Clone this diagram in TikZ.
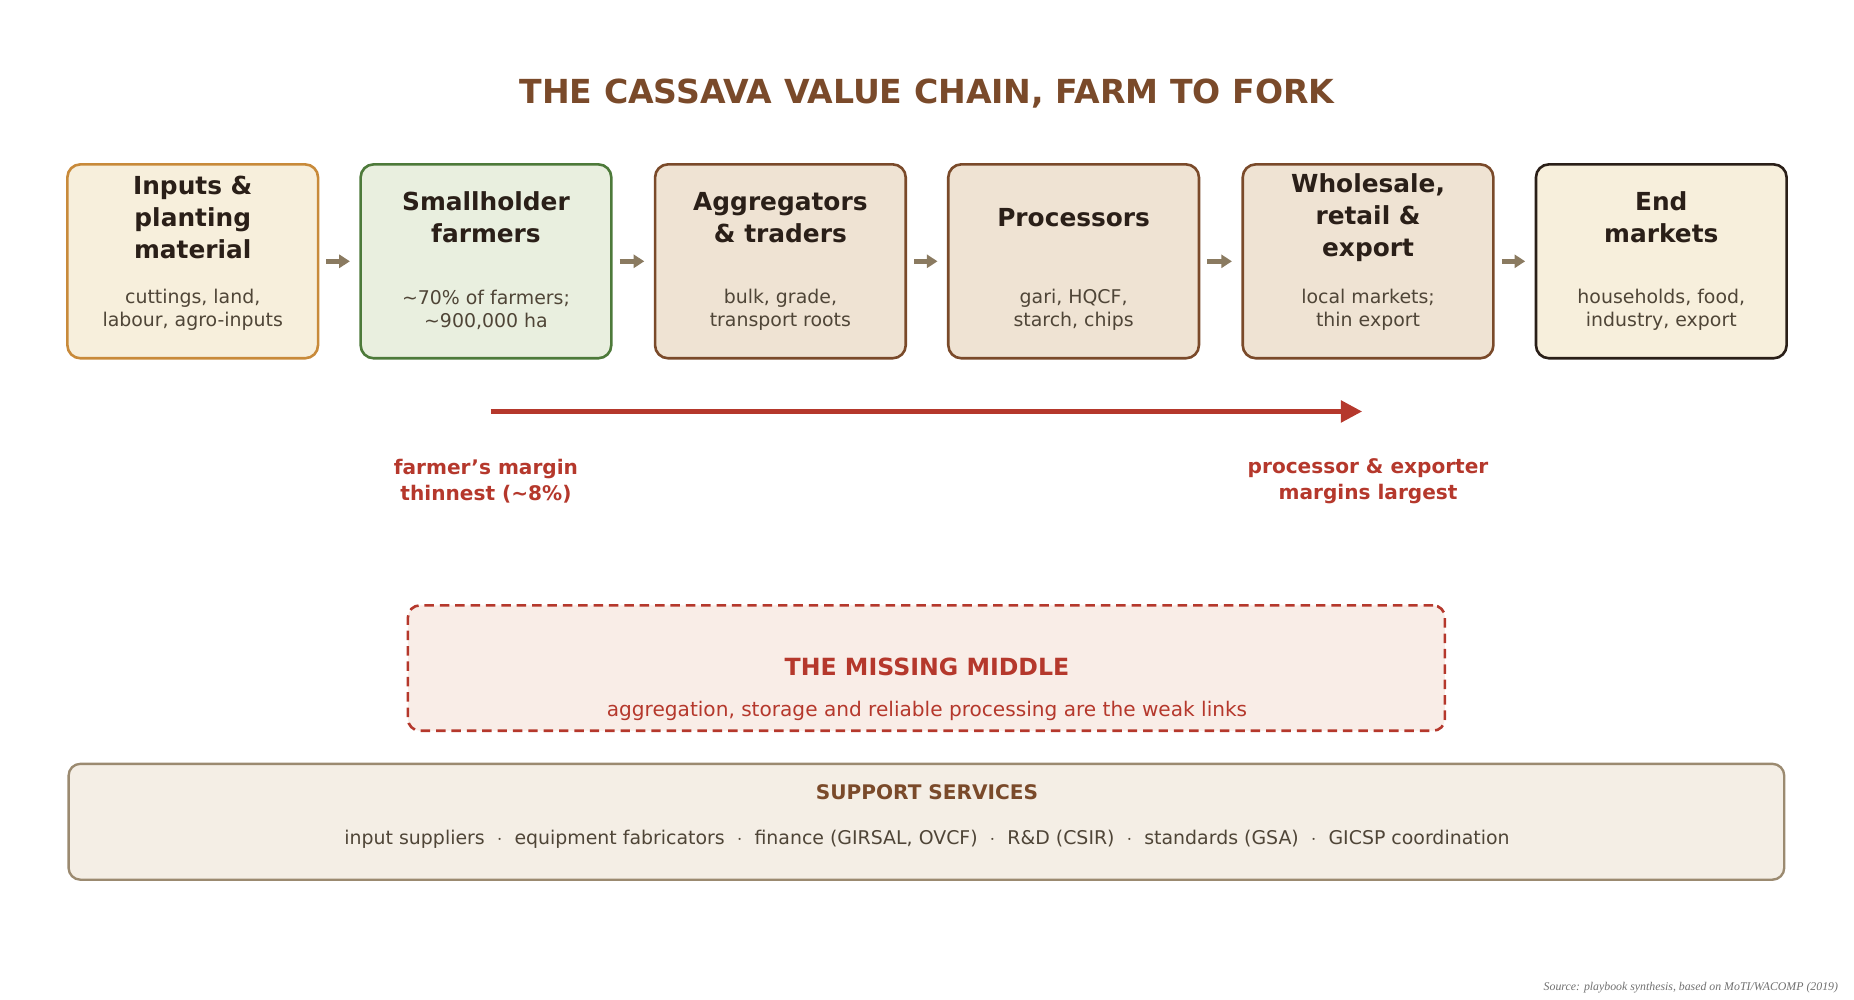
\documentclass[tikz,border=0pt]{standalone}
\usepackage{fontspec}
\setmainfont{DejaVu Sans}
\newfontfamily\srcfont{Liberation Serif}
\usetikzlibrary{arrows.meta}
\definecolor{ink}{HTML}{2A1F18}
\definecolor{subc}{HTML}{4F4537}
\definecolor{brn}{HTML}{7A4A2A}
\definecolor{redc}{HTML}{B5382C}
\definecolor{grayar}{HTML}{8A7A60}
\definecolor{f1}{HTML}{F7EFDC}
\definecolor{d1}{HTML}{C88A3A}
\definecolor{f2}{HTML}{E9EFDF}
\definecolor{d2}{HTML}{4D7A3A}
\definecolor{f3}{HTML}{EFE3D3}
\definecolor{fm}{HTML}{F9EDE7}
\definecolor{fs}{HTML}{F4EEE5}
\definecolor{ds}{HTML}{9B8A70}
\definecolor{srcc}{HTML}{707070}
\tikzset{
 box/.style={draw, line width=2.2pt, rounded corners=11pt, minimum width=212pt, minimum height=164pt},
 ttl/.style={font=\fontsize{21}{27}\selectfont\bfseries, text=ink, align=center},
 sub/.style={font=\fontsize{16}{19}\selectfont, text=subc, align=center},
 chainarrow/.style={-{Triangle[length=9pt,width=11pt]}, line width=4pt, draw=grayar},
 lab/.style={font=\fontsize{17}{22}\selectfont\bfseries, text=redc, align=center}
}
\begin{document}
\begin{tikzpicture}[x=1pt,y=-1pt]
\useasboundingbox (0,0) rectangle (1568,845);
\node[font=\fontsize{28}{32}\selectfont\bfseries, text=brn] (title) at (784,79) {THE CASSAVA VALUE CHAIN, FARM TO FORK};
\node[box, fill=f1, draw=d1] (b1) at (163,221) {};
\node[box, fill=f2, draw=d2] (b2) at (411,221) {};
\node[box, fill=f3, draw=brn] (b3) at (660,221) {};
\node[box, fill=f3, draw=brn] (b4) at (908,221) {};
\node[box, fill=f3, draw=brn] (b5) at (1157,221) {};
\node[box, fill=f1, draw=ink] (b6) at (1405,221) {};
\node[ttl] (t1) at (163,184) {Inputs \&\\planting\\material};
\node[ttl] (t2) at (411,184) {Smallholder\\farmers};
\node[ttl] (t3) at (660,184) {Aggregators\\\& traders};
\node[ttl] (t4) at (908,184) {Processors};
\node[ttl] (t5) at (1157,184) {Wholesale,\\retail \&\\export};
\node[ttl] (t6) at (1405,184) {End\\markets};
\node[sub] (s1) at (163,262) {cuttings, land,\\labour, agro-inputs};
\node[sub] (s2) at (411,262) {\textasciitilde 70\% of farmers;\\\textasciitilde 900,000 ha};
\node[sub] (s3) at (660,262) {bulk, grade,\\transport roots};
\node[sub] (s4) at (908,262) {gari, HQCF,\\starch, chips};
\node[sub] (s5) at (1157,262) {local markets;\\thin export};
\node[sub] (s6) at (1405,262) {households, food,\\industry, export};
\foreach \a/\b in {b1/b2,b2/b3,b3/b4,b4/b5,b5/b6}
  \draw[chainarrow, shorten <=6pt, shorten >=8pt] (\a.east) -- (\b.west);
\coordinate (ra) at (415,348);
\coordinate (rb) at (1152,348);
\draw[line width=4pt, draw=redc, -{Triangle[length=18pt,width=18pt]}] (ra) -- (rb);
\node[lab] (l1) at (411,407) {farmer's margin\\thinnest (\textasciitilde 8\%)};
\node[lab] (l2) at (1157,407) {processor \& exporter\\margins largest};
\node[draw=redc, dash pattern=on 8pt off 5pt, line width=2.2pt, rounded corners=10pt, fill=fm, minimum width=877pt, minimum height=106pt] (mm) at (783.5,565) {};
\node[font=\fontsize{20}{24}\selectfont\bfseries, text=redc] (mmt) at (784,564) {THE MISSING MIDDLE};
\node[font=\fontsize{17}{20}\selectfont, text=redc] (mms) at (784,601) {aggregation, storage and reliable processing are the weak links};
\node[draw=ds, line width=2pt, rounded corners=10pt, fill=fs, minimum width=1451pt, minimum height=98pt] (ss) at (783.5,695) {};
\node[font=\fontsize{17}{20}\selectfont\bfseries, text=brn] (sst) at (784,670) {SUPPORT SERVICES};
\node[font=\fontsize{16}{20}\selectfont, text=subc] (sss) at (784,710) {input suppliers \ $\cdot$ \ equipment fabricators \ $\cdot$ \ finance (GIRSAL, OVCF) \ $\cdot$ \ R\&D (CSIR) \ $\cdot$ \ standards (GSA) \ $\cdot$ \ GICSP coordination};
\node[anchor=east, font=\srcfont\itshape\fontsize{10}{12}\selectfont, text=srcc] (src) at (1558,835) {Source: playbook synthesis, based on MoTI/WACOMP (2019)};
\end{tikzpicture}
\end{document}
